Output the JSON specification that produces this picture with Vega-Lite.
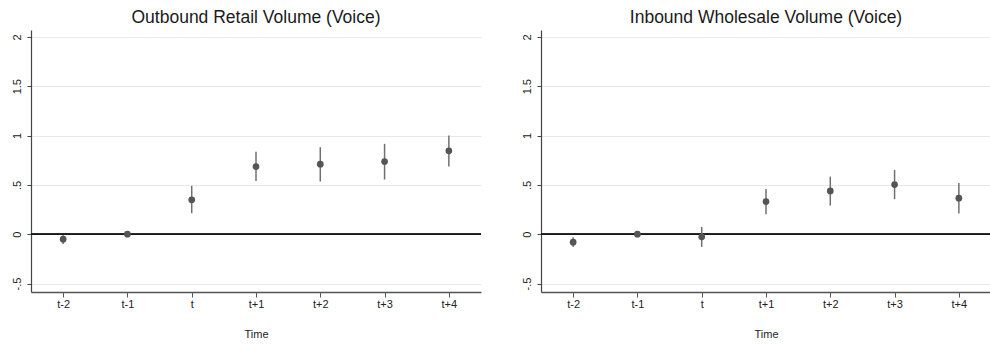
{
  "$schema": "https://vega.github.io/schema/vega-lite/v6.json",
  "padding": {"left": 11, "top": 8, "right": 0, "bottom": 5},
  "background": "white",
  "spacing": 60,
  "bounds": "flush",
  "data": {"values": [
    {"panel": "L", "Time": "t-2", "est": -0.05, "lo": -0.10, "hi": -0.01},
    {"panel": "L", "Time": "t-1", "est": 0.0, "lo": 0.0, "hi": 0.0},
    {"panel": "L", "Time": "t", "est": 0.348, "lo": 0.213, "hi": 0.49},
    {"panel": "L", "Time": "t+1", "est": 0.686, "lo": 0.54, "hi": 0.835},
    {"panel": "L", "Time": "t+2", "est": 0.71, "lo": 0.534, "hi": 0.882},
    {"panel": "L", "Time": "t+3", "est": 0.737, "lo": 0.554, "hi": 0.916},
    {"panel": "L", "Time": "t+4", "est": 0.845, "lo": 0.686, "hi": 1.0},
    {"panel": "R", "Time": "t-2", "est": -0.081, "lo": -0.13, "hi": -0.03},
    {"panel": "R", "Time": "t-1", "est": 0.0, "lo": 0.0, "hi": 0.0},
    {"panel": "R", "Time": "t", "est": -0.027, "lo": -0.129, "hi": 0.074},
    {"panel": "R", "Time": "t+1", "est": 0.331, "lo": 0.203, "hi": 0.459},
    {"panel": "R", "Time": "t+2", "est": 0.439, "lo": 0.29, "hi": 0.584},
    {"panel": "R", "Time": "t+3", "est": 0.503, "lo": 0.355, "hi": 0.652},
    {"panel": "R", "Time": "t+4", "est": 0.365, "lo": 0.209, "hi": 0.52}
  ]},
  "hconcat": [
    {
      "title": "Outbound Retail Volume (Voice)",
      "width": 450,
      "height": 262,
      "transform": [{"filter": "datum.panel == 'L'"}],
      "encoding": {
        "x": {"field": "Time", "type": "ordinal", "sort": ["t-2", "t-1", "t", "t+1", "t+2", "t+3", "t+4"], "scale": {"type": "point", "padding": 0.5}, "axis": {"title": "Time"}},
        "y": {"type": "quantitative", "scale": {"domain": [-0.586, 2.07], "nice": false, "zero": false}, "axis": {"values": [-0.5, 0, 0.5, 1, 1.5, 2], "title": null}}
      },
      "layer": [
        {"mark": {"type": "rule", "color": "#1a1a1a", "strokeWidth": 1}, "encoding": {"x": null, "y": {"datum": 0, "type": "quantitative"}}},
        {"mark": {"type": "rule", "color": "#707070", "strokeWidth": 1.5}, "encoding": {"y": {"field": "lo", "type": "quantitative"}, "y2": {"field": "hi"}}},
        {"mark": {"type": "point", "filled": true, "color": "#555555", "opacity": 1, "size": 45}, "encoding": {"y": {"field": "est", "type": "quantitative"}}}
      ]
    },
    {
      "title": "Inbound Wholesale Volume (Voice)",
      "width": 450,
      "height": 262,
      "transform": [{"filter": "datum.panel == 'R'"}],
      "encoding": {
        "x": {"field": "Time", "type": "ordinal", "sort": ["t-2", "t-1", "t", "t+1", "t+2", "t+3", "t+4"], "scale": {"type": "point", "padding": 0.5}, "axis": {"title": "Time"}},
        "y": {"type": "quantitative", "scale": {"domain": [-0.586, 2.07], "nice": false, "zero": false}, "axis": {"values": [-0.5, 0, 0.5, 1, 1.5, 2], "title": null}}
      },
      "layer": [
        {"mark": {"type": "rule", "color": "#1a1a1a", "strokeWidth": 1}, "encoding": {"x": null, "y": {"datum": 0, "type": "quantitative"}}},
        {"mark": {"type": "rule", "color": "#707070", "strokeWidth": 1.5}, "encoding": {"y": {"field": "lo", "type": "quantitative"}, "y2": {"field": "hi"}}},
        {"mark": {"type": "point", "filled": true, "color": "#555555", "opacity": 1, "size": 45}, "encoding": {"y": {"field": "est", "type": "quantitative"}}}
      ]
    }
  ],
  "resolve": {"scale": {"x": "independent", "y": "independent"}},
  "config": {
    "font": "Liberation Sans",
    "view": {"stroke": null},
    "title": {"fontSize": 17.5, "fontWeight": "normal", "color": "#1a1a1a", "anchor": "middle", "offset": 4, "font": "Liberation Sans"},
    "axisX": {
      "titleFontSize": 11, "titleFontWeight": "normal", "titleColor": "#222222", "titlePadding": 19,
      "labelAngle": 0, "labelFontSize": 11, "labelColor": "#222222", "labelPadding": 1,
      "domainColor": "#555555", "domainWidth": 1.5, "tickColor": "#555555", "tickSize": 5, "grid": false
    },
    "axisY": {
      "labelExpr": "datum.value == -0.5 ? '-.5' : datum.value == 0.5 ? '.5' : datum.value == 1.5 ? '1.5' : datum.value == 1 ? '1' : datum.value == 2 ? '2' : '0'",
      "labelAngle": -90, "labelAlign": "center", "labelBaseline": "bottom", "labelFontSize": 11, "labelColor": "#222222", "labelPadding": 5,
      "domainColor": "#444444", "domainWidth": 1.2, "tickColor": "#444444", "tickSize": 4,
      "grid": true, "gridColor": "#e8e8e8", "gridWidth": 1
    }
  }
}
